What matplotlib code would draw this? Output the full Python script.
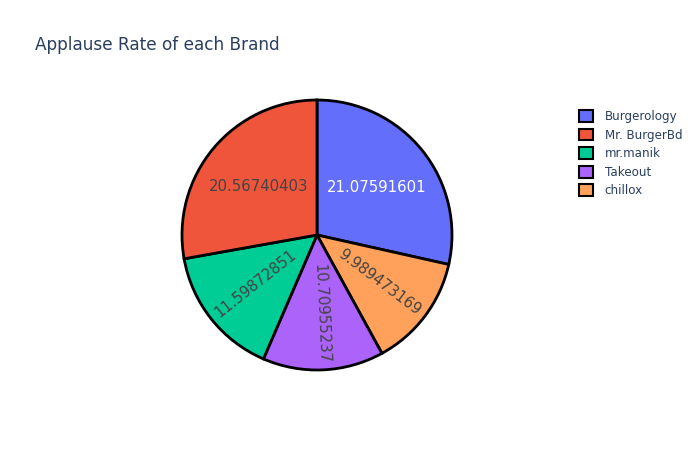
import numpy as np
import matplotlib
matplotlib.use("Agg")
import matplotlib.pyplot as plt
from matplotlib.patches import Patch

plt.rcParams["font.family"] = ["DejaVu Sans"]

# Data (legend order)
brands = ["Burgerology", "Mr. BurgerBd", "mr.manik", "Takeout", "chillox"]
rates = [21.07591601, 20.56740403, 11.59872851, 10.70955237, 9.989473169]
colours = ["#636efa", "#ef553b", "#00cc96", "#ab63fa", "#ffa15a"]
labels = ["21.07591601", "20.56740403", "11.59872851", "10.70955237", "9.989473169"]

# Slice order going clockwise from 12 o'clock
pie_order = [0, 4, 3, 2, 1]

TEXT = "#2a3f5f"

fig = plt.figure(figsize=(7, 4.5), dpi=100)
R = 135.0
lim = 1.2
cx, cy = 317.0, 450 - 235.0
half = R * lim
ax = fig.add_axes([(cx - half) / 700, (cy - half) / 450, 2 * half / 700, 2 * half / 450])

wedges, _ = ax.pie(
    [rates[i] for i in pie_order],
    colors=[colours[i] for i in pie_order],
    startangle=90, counterclock=False,
    wedgeprops=dict(edgecolor="black", linewidth=2),
)
ax.set_xlim(-lim, lim)
ax.set_ylim(-lim, lim)
ax.set_aspect("equal")
ax.axis("off")

# Inside labels: big slices horizontal, narrow ones radial
for w, i in zip(wedges, pie_order):
    mid = (w.theta1 + w.theta2) / 2
    rad = np.deg2rad(mid)
    if (w.theta2 - w.theta1) > 90:
        r, rot = 0.565, 0
    else:
        r = 0.58
        rot = mid
        if np.cos(rad) < 0:
            rot = mid + 180
    col = "white" if i == 0 else "#444444"
    ax.text(r * np.cos(rad), r * np.sin(rad), labels[i], rotation=rot,
            rotation_mode="anchor", ha="center", va="center",
            fontsize=10.7, color=col)

fig.text(35 / 700, 1 - 45 / 450, "Applause Rate of each Brand",
         fontsize=12.2, color=TEXT, ha="left", va="center")

handles = [Patch(facecolor=colours[i], edgecolor="black", linewidth=1.5)
           for i in range(len(brands))]
leg = fig.legend(handles, brands, loc="upper left",
                 bbox_to_anchor=(573 / 700, 1 - 104 / 450),
                 frameon=False, fontsize=8.6, labelcolor=TEXT,
                 handlelength=1.15, handleheight=1.15, handletextpad=1.0,
                 labelspacing=0.47, borderpad=0)

fig.savefig("out.png", dpi=100, facecolor="white")
